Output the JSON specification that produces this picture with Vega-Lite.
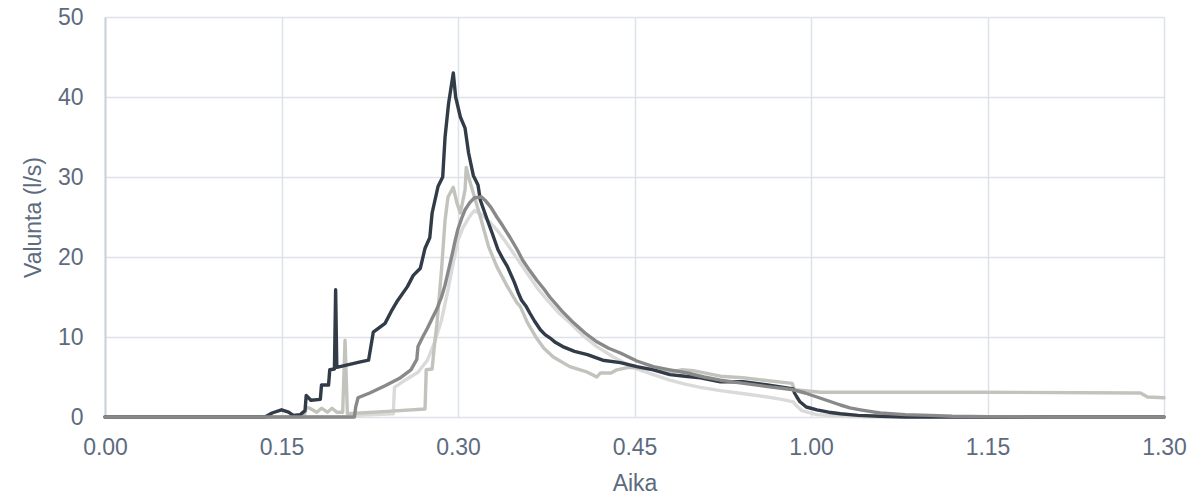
{
  "$schema": "https://vega.github.io/schema/vega-lite/v6.json",
  "width": 1059,
  "height": 400,
  "autosize": {"type": "none"},
  "padding": {"left": 105, "top": 17, "right": 32, "bottom": 81},
  "background": "white",
  "config": {
    "view": {"stroke": null},
    "font": "Liberation Sans",
    "axis": {"labelFont": "Liberation Sans", "titleFont": "Liberation Sans", "labelColor": "#5d6b7e", "titleColor": "#5d6b7e", "labelFontSize": 23, "titleFontSize": 23, "titleFontWeight": "normal", "gridColor": "#dde2e9", "gridWidth": 1.5, "ticks": false, "labelFlush": false, "labelOverlap": false}
  },
  "data": {"values": [
    {"s":"s1","t":0,"v":0},{"s":"s1","t":21.0,"v":0},{"s":"s1","t":21.5,"v":0.2},{"s":"s1","t":24.5,"v":0.4},{"s":"s1","t":24.6,"v":3.7},{"s":"s1","t":25.5,"v":4.6},{"s":"s1","t":26.6,"v":5.6},{"s":"s1","t":27.4,"v":7.1},{"s":"s1","t":28.0,"v":9.3},{"s":"s1","t":28.6,"v":12.1},{"s":"s1","t":29.15,"v":15.9},{"s":"s1","t":29.6,"v":19.3},{"s":"s1","t":30.0,"v":22.1},{"s":"s1","t":30.4,"v":23.6},{"s":"s1","t":30.8,"v":24.6},{"s":"s1","t":31.1,"v":25.3},{"s":"s1","t":31.4,"v":25.8},{"s":"s1","t":32.0,"v":25.3},{"s":"s1","t":32.6,"v":24.5},{"s":"s1","t":33.3,"v":23.4},{"s":"s1","t":34.0,"v":22.0},{"s":"s1","t":34.7,"v":20.5},{"s":"s1","t":35.4,"v":19.0},{"s":"s1","t":36.1,"v":17.5},{"s":"s1","t":36.8,"v":16.0},{"s":"s1","t":37.6,"v":14.6},{"s":"s1","t":38.5,"v":13.1},{"s":"s1","t":39.5,"v":11.8},{"s":"s1","t":40.6,"v":10.2},{"s":"s1","t":41.8,"v":8.8},{"s":"s1","t":43.2,"v":7.5},{"s":"s1","t":44.6,"v":6.4},{"s":"s1","t":45.6,"v":5.8},{"s":"s1","t":46.6,"v":5.3},{"s":"s1","t":48.0,"v":4.6},{"s":"s1","t":49.3,"v":4.1},{"s":"s1","t":50.6,"v":3.7},{"s":"s1","t":52.3,"v":3.3},{"s":"s1","t":54.3,"v":2.9},{"s":"s1","t":56.3,"v":2.5},{"s":"s1","t":57.5,"v":2.2},{"s":"s1","t":58.5,"v":1.9},{"s":"s1","t":58.7,"v":1.5},{"s":"s1","t":59.2,"v":0.8},{"s":"s1","t":60.5,"v":0.3},{"s":"s1","t":62.5,"v":0.1},{"s":"s1","t":65,"v":0},{"s":"s1","t":90,"v":0},

    {"s":"s2","t":0,"v":0},{"s":"s2","t":16.9,"v":0},{"s":"s2","t":17.1,"v":1.2},{"s":"s2","t":17.4,"v":1.1},{"s":"s2","t":18.0,"v":0.6},{"s":"s2","t":18.4,"v":1.1},{"s":"s2","t":18.9,"v":0.6},{"s":"s2","t":19.3,"v":1.1},{"s":"s2","t":19.7,"v":0.6},{"s":"s2","t":20.2,"v":0.6},{"s":"s2","t":20.4,"v":9.6},{"s":"s2","t":20.6,"v":0.4},{"s":"s2","t":24.0,"v":0.7},{"s":"s2","t":27.2,"v":1.0},{"s":"s2","t":27.3,"v":5.9},{"s":"s2","t":27.8,"v":6.0},{"s":"s2","t":28.0,"v":9.0},{"s":"s2","t":28.2,"v":11.5},{"s":"s2","t":28.6,"v":18.4},{"s":"s2","t":28.9,"v":24.6},{"s":"s2","t":29.15,"v":27.5},{"s":"s2","t":29.6,"v":28.7},{"s":"s2","t":29.9,"v":26.8},{"s":"s2","t":30.2,"v":25.5},{"s":"s2","t":30.6,"v":28.4},{"s":"s2","t":30.7,"v":31.2},{"s":"s2","t":30.9,"v":30.0},{"s":"s2","t":31.3,"v":28.0},{"s":"s2","t":31.9,"v":25.0},{"s":"s2","t":32.6,"v":21.3},{"s":"s2","t":33.3,"v":18.8},{"s":"s2","t":34.2,"v":16.3},{"s":"s2","t":35.0,"v":14.3},{"s":"s2","t":35.3,"v":13.8},{"s":"s2","t":35.9,"v":11.8},{"s":"s2","t":36.7,"v":9.8},{"s":"s2","t":37.3,"v":8.6},{"s":"s2","t":38.1,"v":7.5},{"s":"s2","t":39.5,"v":6.3},{"s":"s2","t":41.0,"v":5.6},{"s":"s2","t":41.8,"v":5.0},{"s":"s2","t":42.1,"v":5.5},{"s":"s2","t":43.0,"v":5.5},{"s":"s2","t":43.5,"v":5.9},{"s":"s2","t":44.5,"v":6.2},{"s":"s2","t":46.6,"v":6.0},{"s":"s2","t":48.0,"v":5.6},{"s":"s2","t":49.0,"v":5.9},{"s":"s2","t":50.0,"v":5.8},{"s":"s2","t":52.3,"v":5.1},{"s":"s2","t":54.2,"v":4.9},{"s":"s2","t":56.0,"v":4.6},{"s":"s2","t":58.4,"v":4.2},{"s":"s2","t":58.6,"v":3.4},{"s":"s2","t":60.8,"v":3.1},{"s":"s2","t":74.4,"v":3.1},{"s":"s2","t":88.0,"v":3.0},{"s":"s2","t":88.6,"v":2.5},{"s":"s2","t":90,"v":2.4},

    {"s":"s3","t":0,"v":0},{"s":"s3","t":13.6,"v":0},{"s":"s3","t":14.2,"v":0.5},{"s":"s3","t":15.0,"v":0.9},{"s":"s3","t":15.6,"v":0.6},{"s":"s3","t":16.0,"v":0.2},{"s":"s3","t":16.6,"v":0.3},{"s":"s3","t":17.0,"v":0.8},{"s":"s3","t":17.1,"v":2.7},{"s":"s3","t":17.5,"v":2.1},{"s":"s3","t":18.3,"v":2.2},{"s":"s3","t":18.4,"v":4.0},{"s":"s3","t":19.0,"v":4.0},{"s":"s3","t":19.1,"v":5.9},{"s":"s3","t":19.5,"v":6.0},{"s":"s3","t":19.6,"v":15.9},{"s":"s3","t":19.7,"v":6.2},{"s":"s3","t":21.7,"v":6.9},{"s":"s3","t":22.4,"v":7.1},{"s":"s3","t":22.8,"v":10.6},{"s":"s3","t":23.8,"v":11.7},{"s":"s3","t":24.4,"v":13.4},{"s":"s3","t":24.8,"v":14.4},{"s":"s3","t":25.7,"v":16.3},{"s":"s3","t":26.2,"v":17.7},{"s":"s3","t":26.8,"v":18.6},{"s":"s3","t":27.2,"v":21.1},{"s":"s3","t":27.6,"v":22.4},{"s":"s3","t":27.8,"v":25.5},{"s":"s3","t":28.3,"v":28.8},{"s":"s3","t":28.7,"v":30.0},{"s":"s3","t":28.9,"v":35.0},{"s":"s3","t":29.2,"v":39.2},{"s":"s3","t":29.6,"v":43.0},{"s":"s3","t":29.8,"v":40.0},{"s":"s3","t":30.2,"v":37.5},{"s":"s3","t":30.6,"v":36.1},{"s":"s3","t":30.9,"v":33.0},{"s":"s3","t":31.3,"v":30.2},{"s":"s3","t":31.7,"v":29.0},{"s":"s3","t":31.9,"v":27.1},{"s":"s3","t":32.5,"v":24.6},{"s":"s3","t":32.9,"v":23.0},{"s":"s3","t":33.4,"v":20.9},{"s":"s3","t":33.8,"v":19.8},{"s":"s3","t":34.2,"v":18.8},{"s":"s3","t":34.8,"v":16.8},{"s":"s3","t":35.1,"v":15.6},{"s":"s3","t":35.4,"v":14.6},{"s":"s3","t":35.8,"v":13.8},{"s":"s3","t":36.1,"v":13.0},{"s":"s3","t":36.5,"v":12.0},{"s":"s3","t":37.0,"v":10.9},{"s":"s3","t":37.4,"v":10.3},{"s":"s3","t":37.8,"v":9.9},{"s":"s3","t":38.3,"v":9.3},{"s":"s3","t":38.9,"v":8.8},{"s":"s3","t":39.9,"v":8.2},{"s":"s3","t":41.0,"v":7.8},{"s":"s3","t":42.3,"v":7.1},{"s":"s3","t":43.8,"v":6.8},{"s":"s3","t":45.2,"v":6.3},{"s":"s3","t":46.6,"v":5.9},{"s":"s3","t":48.0,"v":5.3},{"s":"s3","t":49.3,"v":5.1},{"s":"s3","t":50.6,"v":4.9},{"s":"s3","t":52.3,"v":4.4},{"s":"s3","t":54.2,"v":4.4},{"s":"s3","t":56.3,"v":4.0},{"s":"s3","t":58.5,"v":3.5},{"s":"s3","t":58.6,"v":3.0},{"s":"s3","t":58.8,"v":2.5},{"s":"s3","t":59.06,"v":1.9},{"s":"s3","t":59.6,"v":1.25},{"s":"s3","t":60.5,"v":0.9},{"s":"s3","t":61.5,"v":0.6},{"s":"s3","t":62.5,"v":0.4},{"s":"s3","t":64.0,"v":0.2},{"s":"s3","t":65.9,"v":0.1},{"s":"s3","t":68,"v":0},{"s":"s3","t":90,"v":0},

    {"s":"s4","t":0,"v":0},{"s":"s4","t":21.2,"v":0},{"s":"s4","t":21.3,"v":1.2},{"s":"s4","t":21.5,"v":2.4},{"s":"s4","t":22.5,"v":3.0},{"s":"s4","t":23.8,"v":3.9},{"s":"s4","t":25.0,"v":4.8},{"s":"s4","t":26.0,"v":5.9},{"s":"s4","t":26.5,"v":7.2},{"s":"s4","t":26.6,"v":8.8},{"s":"s4","t":27.0,"v":10.0},{"s":"s4","t":27.4,"v":11.1},{"s":"s4","t":27.8,"v":12.3},{"s":"s4","t":28.2,"v":13.5},{"s":"s4","t":28.6,"v":15.0},{"s":"s4","t":28.9,"v":16.5},{"s":"s4","t":29.2,"v":18.4},{"s":"s4","t":29.5,"v":20.3},{"s":"s4","t":29.75,"v":22.0},{"s":"s4","t":30.0,"v":23.5},{"s":"s4","t":30.3,"v":24.8},{"s":"s4","t":30.6,"v":25.9},{"s":"s4","t":31.0,"v":26.8},{"s":"s4","t":31.4,"v":27.4},{"s":"s4","t":32.0,"v":27.5},{"s":"s4","t":32.3,"v":27.1},{"s":"s4","t":32.8,"v":26.2},{"s":"s4","t":33.3,"v":25.0},{"s":"s4","t":33.8,"v":23.9},{"s":"s4","t":34.4,"v":22.5},{"s":"s4","t":35.0,"v":21.0},{"s":"s4","t":35.5,"v":19.6},{"s":"s4","t":36.1,"v":18.3},{"s":"s4","t":36.7,"v":17.1},{"s":"s4","t":37.3,"v":16.0},{"s":"s4","t":37.8,"v":15.0},{"s":"s4","t":38.8,"v":13.3},{"s":"s4","t":39.8,"v":11.8},{"s":"s4","t":40.8,"v":10.5},{"s":"s4","t":41.8,"v":9.4},{"s":"s4","t":42.8,"v":8.6},{"s":"s4","t":43.8,"v":8.0},{"s":"s4","t":45.2,"v":7.0},{"s":"s4","t":46.6,"v":6.3},{"s":"s4","t":48.0,"v":5.9},{"s":"s4","t":49.5,"v":5.5},{"s":"s4","t":50.9,"v":5.0},{"s":"s4","t":52.3,"v":4.6},{"s":"s4","t":54.3,"v":4.2},{"s":"s4","t":56.3,"v":3.8},{"s":"s4","t":57.5,"v":3.6},{"s":"s4","t":58.5,"v":3.4},{"s":"s4","t":59.5,"v":3.0},{"s":"s4","t":60.5,"v":2.5},{"s":"s4","t":61.5,"v":2.0},{"s":"s4","t":62.5,"v":1.5},{"s":"s4","t":63.3,"v":1.15},{"s":"s4","t":64.2,"v":0.9},{"s":"s4","t":65.0,"v":0.7},{"s":"s4","t":65.9,"v":0.5},{"s":"s4","t":68,"v":0.3},{"s":"s4","t":70.1,"v":0.2},{"s":"s4","t":72,"v":0.1},{"s":"s4","t":75,"v":0.05},{"s":"s4","t":80,"v":0},{"s":"s4","t":90,"v":0}
  ]},
  "mark": {"type": "line", "strokeWidth": 3.4, "strokeJoin": "round", "strokeCap": "round"},
  "encoding": {
    "x": {"field": "t", "type": "quantitative", "title": "Aika",
      "scale": {"domain": [0, 90], "nice": false, "zero": false},
      "axis": {"values": [0, 15, 30, 45, 60, 75, 90], "domain": false, "labelPadding": 19, "titlePadding": 13,
        "labelExpr": "floor(datum.value/60) + '.' + (datum.value%60 < 10 ? '0' : '') + (datum.value%60)"}},
    "y": {"field": "v", "type": "quantitative", "title": "Valunta (l/s)",
      "scale": {"domain": [0, 50], "nice": false},
      "axis": {"values": [0, 10, 20, 30, 40, 50], "domain": true, "domainColor": "#c9d1dc", "domainWidth": 2, "labelPadding": 22, "titlePadding": 12}},
    "color": {"field": "s", "type": "nominal", "legend": null,
      "scale": {"domain": ["s1", "s2", "s3", "s4"], "range": ["#dadada", "#c3c3be", "#323b48", "#898989"]}}
  }
}
